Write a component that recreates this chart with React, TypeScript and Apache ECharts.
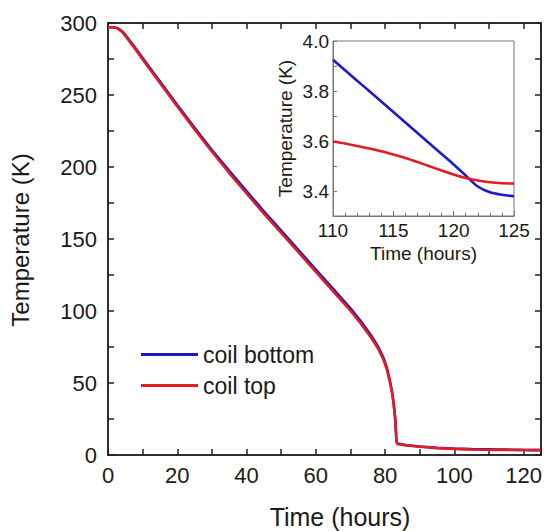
import React, { useEffect, useRef } from 'react';
import * as echarts from 'echarts';

// ---- Data ----
const mainTime = [0, 1, 2, 3, 4, 5, 6, 7, 8, 10, 12, 15, 20, 25, 30, 35, 40, 45, 50, 55, 60, 65, 70, 73, 76, 78, 79.5, 80.5, 81.3, 82, 82.5, 82.9, 83.1, 83.3, 83.6, 86, 90, 95, 100, 105];
const coilBottomMain = [297, 297, 296.8, 296.1, 294.4, 291.7, 288.6, 285.4, 282.2, 275.7, 269.1, 259.3, 243, 227.2, 211.8, 197.4, 183.2, 169.2, 155.8, 142.3, 128.8, 115.3, 101.8, 92.8, 82.8, 75.2, 67.7, 60.6, 52.5, 43.9, 35.3, 25.8, 17.2, 9.1, 7.9, 7.0, 5.9, 5.0, 4.45, 4.05];
const coilTopMain = [297, 297, 296.8, 295.9, 294.0, 291.1, 287.9, 284.6, 281.4, 274.7, 268.1, 258.3, 242, 226.0, 210.6, 195.8, 181.6, 167.6, 154.2, 140.7, 127.2, 113.7, 100.2, 91.2, 81.2, 73.8, 66.3, 59.4, 51.5, 43.1, 34.7, 25.2, 16.8, 8.9, 7.6, 6.7, 5.7, 4.8, 4.25, 3.85];

const insetTime = [110, 111, 112, 113, 114, 115, 116, 117, 118, 119, 120, 121, 122, 123, 124, 125];
const coilBottomInset = [3.925, 3.883, 3.841, 3.8, 3.758, 3.716, 3.674, 3.632, 3.59, 3.548, 3.506, 3.462, 3.418, 3.395, 3.385, 3.379];
const coilTopInset = [3.598, 3.59, 3.58, 3.57, 3.559, 3.546, 3.532, 3.516, 3.499, 3.482, 3.466, 3.452, 3.442, 3.435, 3.431, 3.43];

const seriesNames = ['coil bottom', 'coil top'];
const seriesColors = ['#1c1cc6', '#e31b22'];

const mainXLabelStep = 20;
const mainYLabelStep = 50;

const FONT = 'Liberation Sans, Arial, Helvetica, sans-serif';

function zip(t: number[], v: number[]) {
  return t.map((x, i) => [x, v[i]]);
}

export default function App() {
  const ref = useRef<HTMLDivElement>(null);

  useEffect(() => {
    if (!ref.current) return;
    const chart = echarts.init(ref.current, undefined, { renderer: 'svg' });

    const frame = () => ({ color: '#222', width: 1.5 });
    const insetFrame = () => ({ color: '#777', width: 1 });
    const blank = () => '';

    const fullTime = mainTime.concat(insetTime);
    const fullBottom = coilBottomMain.concat(coilBottomInset);
    const fullTop = coilTopMain.concat(coilTopInset);

    chart.setOption({
      animation: false,
      textStyle: { fontFamily: FONT },
      grid: [
        {
          left: 108, top: 23, width: 433, height: 432,
          containLabel: false, outerBoundsMode: 'none',
          show: true, borderColor: '#222', borderWidth: 1.5,
        },
        {
          left: 333, top: 41, width: 181, height: 175,
          containLabel: false, outerBoundsMode: 'none',
          show: true, borderColor: '#777', borderWidth: 1, backgroundColor: '#fff',
        },
      ],
      legend: {
        orient: 'vertical',
        left: 136,
        top: 338,
        itemWidth: 57,
        itemHeight: 3,
        itemGap: 8,
        icon: 'rect',
        data: seriesNames,
        textStyle: { fontSize: 23, color: '#1a1a1a', fontFamily: FONT },
      },
      xAxis: [
        {
          gridIndex: 0, type: 'value', position: 'bottom', min: 0, max: 125, interval: 10,
          axisLine: { show: true, onZero: false, lineStyle: frame() },
          axisTick: { show: true, inside: true, length: 6, lineStyle: frame() },
          axisLabel: {
            fontSize: 22, color: '#1a1a1a', margin: 9, fontFamily: FONT,
            formatter: (v: number) => (v % mainXLabelStep === 0 ? String(v) : ''),
          },
          splitLine: { show: false },
        },
        {
          gridIndex: 0, type: 'value', position: 'top', min: 0, max: 125, interval: 10,
          axisLine: { show: true, onZero: false, lineStyle: frame() },
          axisTick: { show: true, inside: true, length: 6, lineStyle: frame() },
          axisLabel: { show: true, formatter: blank, fontSize: 1, margin: 0 },
          splitLine: { show: false },
        },
        {
          gridIndex: 1, type: 'value', position: 'bottom', min: 110, max: 125, interval: 5,
          axisLine: { show: true, onZero: false, lineStyle: insetFrame() },
          axisTick: { show: true, inside: true, length: 5, lineStyle: insetFrame() },
          minorTick: { show: true, splitNumber: 5, length: 3, lineStyle: insetFrame() },
          axisLabel: { fontSize: 19, color: '#1a1a1a', margin: 5, fontFamily: FONT },
          splitLine: { show: false },
          name: 'Time (hours)',
          nameLocation: 'middle',
          nameGap: 28,
          nameTextStyle: { fontSize: 19, color: '#1a1a1a', fontFamily: FONT },
        },
      ],
      yAxis: [
        {
          gridIndex: 0, type: 'value', position: 'left', min: 0, max: 300, interval: 25,
          axisLine: { show: true, onZero: false, lineStyle: frame() },
          axisTick: { show: true, inside: true, length: 6, lineStyle: frame() },
          axisLabel: {
            fontSize: 22, color: '#1a1a1a', margin: 11, fontFamily: FONT,
            formatter: (v: number) => (v % mainYLabelStep === 0 ? String(v) : ''),
          },
          splitLine: { show: false },
        },
        {
          gridIndex: 0, type: 'value', position: 'right', min: 0, max: 300, interval: 25,
          axisLine: { show: true, onZero: false, lineStyle: frame() },
          axisTick: { show: true, inside: true, length: 6, lineStyle: frame() },
          axisLabel: { show: true, formatter: blank, fontSize: 1, margin: 0 },
          splitLine: { show: false },
        },
        {
          gridIndex: 1, type: 'value', position: 'left', min: 3.3, max: 4.0, interval: 0.1,
          axisLine: { show: true, onZero: false, lineStyle: insetFrame() },
          axisTick: { show: true, inside: true, length: 4, lineStyle: insetFrame() },
          axisLabel: {
            fontSize: 19, color: '#1a1a1a', margin: 4, fontFamily: FONT,
            formatter: (v: number) => (Math.round(v * 10) % 2 === 0 ? v.toFixed(1) : ''),
          },
          splitLine: { show: false },
          name: 'Temperature (K)',
          nameLocation: 'middle',
          nameGap: 38,
          nameTextStyle: { fontSize: 19, color: '#1a1a1a', fontFamily: FONT },
        },
      ],
      series: [
        {
          name: seriesNames[0], type: 'line', xAxisIndex: 0, yAxisIndex: 0,
          data: zip(fullTime, fullBottom), showSymbol: false, symbol: 'none',
          lineStyle: { color: seriesColors[0], width: 2.6 }, itemStyle: { color: seriesColors[0] },
        },
        {
          name: seriesNames[1], type: 'line', xAxisIndex: 0, yAxisIndex: 0,
          data: zip(fullTime, fullTop), showSymbol: false, symbol: 'none',
          lineStyle: { color: seriesColors[1], width: 2.6 }, itemStyle: { color: seriesColors[1] },
        },
        {
          name: 'frame-top-right', type: 'line', xAxisIndex: 1, yAxisIndex: 1,
          data: zip(fullTime, fullTop), showSymbol: false, symbol: 'none', silent: true,
          lineStyle: { opacity: 0, width: 0 }, itemStyle: { opacity: 0 }, z: 0,
        },
        {
          name: seriesNames[0], type: 'line', xAxisIndex: 2, yAxisIndex: 2,
          data: zip(insetTime, coilBottomInset), showSymbol: false, symbol: 'none', smooth: 0.3,
          lineStyle: { color: seriesColors[0], width: 2.6 }, itemStyle: { color: seriesColors[0] },
        },
        {
          name: seriesNames[1], type: 'line', xAxisIndex: 2, yAxisIndex: 2,
          data: zip(insetTime, coilTopInset), showSymbol: false, symbol: 'none', smooth: 0.3,
          lineStyle: { color: seriesColors[1], width: 2.6 }, itemStyle: { color: seriesColors[1] },
        },
      ],
      graphic: [
        {
          type: 'text', x: 340, y: 517,
          style: { text: 'Time (hours)', fontSize: 25, fill: '#1a1a1a', align: 'center', verticalAlign: 'middle', fontFamily: FONT },
        },
        {
          type: 'text', x: 20, y: 240, rotation: Math.PI / 2,
          style: { text: 'Temperature (K)', fontSize: 24, fill: '#1a1a1a', align: 'center', verticalAlign: 'middle', fontFamily: FONT },
        },
      ],
    });

    return () => chart.dispose();
  }, []);

  return (
    <div
      ref={ref}
      style={{ position: 'fixed', left: 0, top: 0, width: 544, height: 531, background: '#fff' }}
    />
  );
}
